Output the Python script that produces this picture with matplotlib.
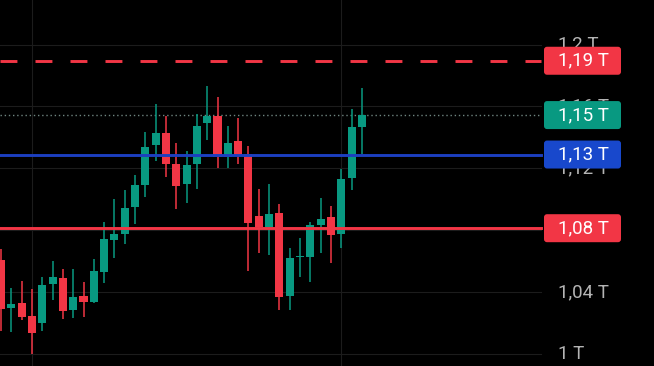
import numpy as np
import matplotlib.pyplot as plt
from matplotlib.patches import FancyBboxPatch
from matplotlib.transforms import blended_transform_factory

# candle data (price in T)
opens  = [1.0607, 1.0297, 1.0330, 1.0246, 1.0200, 1.0452, 1.0491, 1.0284, 1.0375, 1.0336,
          1.0530, 1.0737, 1.0775, 1.0950, 1.1092, 1.1351, 1.1428, 1.1228, 1.1099, 1.1228,
          1.1493, 1.1538, 1.1273, 1.1376, 1.1292, 1.0892, 1.0821, 1.0911, 1.0375, 1.0627,
          1.0627, 1.0834, 1.0885, 1.0775, 1.1137, 1.1467]
highs  = [1.0679, 1.0426, 1.0472, 1.0420, 1.0498, 1.0601, 1.0549, 1.0549, 1.0465, 1.0614,
          1.0853, 1.1002, 1.1060, 1.1157, 1.1435, 1.1616, 1.1538, 1.1363, 1.1312, 1.1551,
          1.1732, 1.1661, 1.1473, 1.1525, 1.1344, 1.1066, 1.1099, 1.0969, 1.0685, 1.0750,
          1.0853, 1.1008, 1.0956, 1.1195, 1.1583, 1.1719]
lows   = [1.0149, 1.0142, 1.0220, 1.0000, 1.0149, 1.0349, 1.0226, 1.0233, 1.0239, 1.0330,
          1.0459, 1.0620, 1.0711, 1.0840, 1.1015, 1.1247, 1.1144, 1.0937, 1.0976, 1.1066,
          1.1383, 1.1202, 1.1202, 1.1228, 1.0536, 1.0653, 1.0640, 1.0284, 1.0284, 1.0498,
          1.0465, 1.0653, 1.0588, 1.0685, 1.1060, 1.1292]
closes = [1.0291, 1.0323, 1.0239, 1.0136, 1.0446, 1.0498, 1.0278, 1.0368, 1.0336, 1.0536,
          1.0743, 1.0775, 1.0943, 1.1092, 1.1338, 1.1428, 1.1228, 1.1086, 1.1221, 1.1473,
          1.1538, 1.1273, 1.1363, 1.1286, 1.0847, 1.0821, 1.0905, 1.0368, 1.0620, 1.0633,
          1.0834, 1.0872, 1.0769, 1.1131, 1.1467, 1.1544]

tick_vals = [1.00, 1.04, 1.08, 1.12, 1.16, 1.20]
tick_labels = ["1 T", "1,04 T", "1,08 T", "1,12 T", "1,16 T", "1,2 T"]

level_vals = [1.1895, 1.1289, 1.0813]
level_labels = ["1,19 T", "1,13 T", "1,08 T"]
level_colors = ["#f23645", "#1c3fc0", "#f23645"]
level_styles = [(0, (5.8, 6.2)), "-", "-"]
box_colors = ["#f23645", "#1848cc", "#f23645"]
last_label = "1,15 T"

RED = "#f23645"
GREEN = "#089981"
GRID = "#1c1c1c"

plt.rcParams['font.family'] = ['Roboto', 'DejaVu Sans']

fig = plt.figure(figsize=(6.54, 3.66), dpi=100, facecolor="black")
ax = fig.add_axes([0, 0, 1, 1])
ax.set_facecolor("black")
ax.set_xlim(-0.1, 63.34)
ax.set_ylim(0.99225, 1.22876)
ax.axis("off")

trans = blended_transform_factory(ax.transAxes, ax.transData)
right_end = 541 / 654

# grid
for v in tick_vals:
    ax.plot([0, right_end], [v, v], color=GRID, lw=0.8, transform=trans, zorder=0)
for xv in [3, 33]:
    ax.axvline(xv, color=GRID, lw=0.8, zorder=0)

# candles
x = np.arange(len(opens))
o = np.array(opens); c = np.array(closes)
cols = [GREEN if cc >= oo else RED for oo, cc in zip(o, c)]
ax.vlines(x, lows, highs, colors=cols, lw=1.1, zorder=2)
body = np.maximum(np.abs(c - o), 0.0006)
ax.bar(x, body, bottom=np.minimum(o, c), width=0.78, color=cols, zorder=3)

# level lines
for v, col, ls in zip(level_vals, level_colors, level_styles):
    ax.plot([0, right_end], [v, v], color=col, lw=2.1, ls=ls, transform=trans, zorder=4)
ax.plot([0, right_end], [closes[-1], closes[-1]], color="#6f8580", lw=1.0,
        ls=(0, (1, 2)), transform=trans, zorder=1)

# price axis labels
for v, lab in zip(tick_vals, tick_labels):
    ax.text(558 / 654, v, lab, transform=trans, color="#b4b4b4", fontsize=13.5,
            ha="left", va="center", zorder=5)

# label boxes
fig.canvas.draw()
def add_box(price, label, color):
    yc = ax.transData.transform((0, price))[1] / 100
    h = 0.28
    p = FancyBboxPatch((5.44, yc - h / 2), 0.77, h,
                       boxstyle="round,pad=0,rounding_size=0.03",
                       transform=fig.dpi_scale_trans, facecolor=color,
                       edgecolor="none", zorder=6)
    ax.add_patch(p)
    ax.text(5.585, yc, label, transform=fig.dpi_scale_trans, color="white",
            fontsize=13.5, ha="left", va="center", zorder=7)

for v, lab, col in zip(level_vals, level_labels, box_colors):
    add_box(v, lab, col)
add_box(closes[-1], last_label, GREEN)

fig.savefig("out.png", dpi=100, facecolor="black")
